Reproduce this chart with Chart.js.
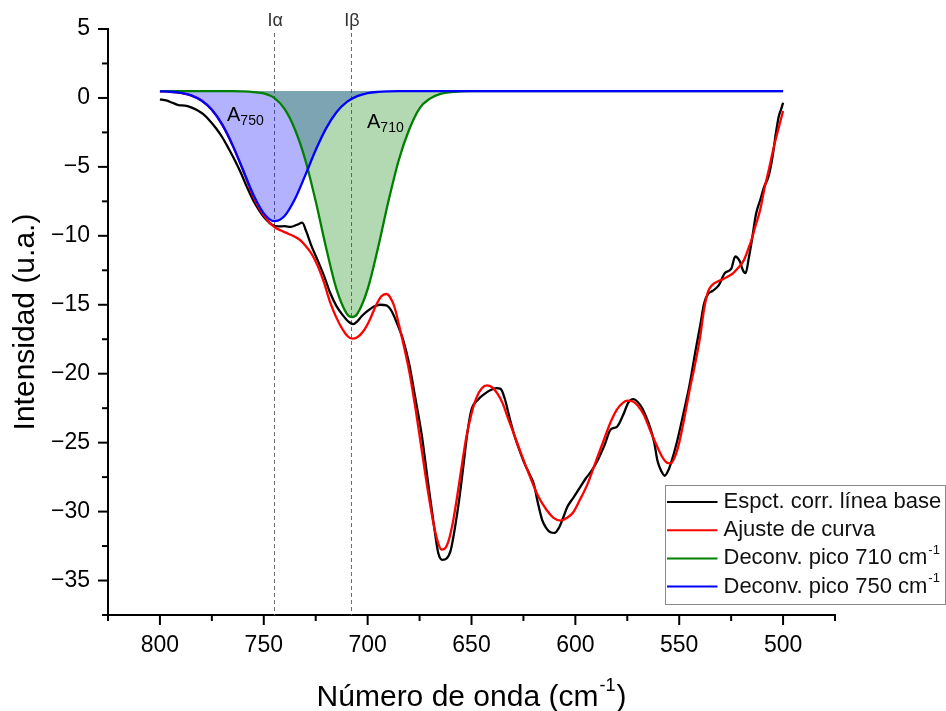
<!DOCTYPE html>
<html>
<head>
<meta charset="utf-8">
<script src="https://cdn.jsdelivr.net/npm/chart.js@4.4.1/dist/chart.umd.min.js"></script>
<style>
  html, body { margin: 0; padding: 0; background: #fff; }
  #wrap { width: 946px; height: 711px; }
</style>
</head>
<body>
<div id="wrap"><canvas id="chart" width="946" height="711"></canvas></div>
<script>
const FONT = "'Liberation Sans', Arial, Helvetica, sans-serif";

/* DATA */

// baseline-corrected spectrum
const expWave = [800, 797, 794, 791, 788, 785, 782, 779, 776, 773, 770, 767, 764, 761, 758, 755, 752, 749, 746, 743,
  740, 737, 734, 731.5, 729.5, 727, 724, 721, 718, 715, 712, 709, 707, 705, 703, 700, 697, 694, 691, 688.5,
  686, 683, 680, 677, 674, 671, 668, 666, 664, 662, 660, 658, 656, 654, 652, 650, 647, 644, 641, 638,
  636, 634, 632, 629.5, 627, 624.5, 622, 620, 618, 616, 614, 612, 610, 608, 606, 604, 601, 598, 595, 592,
  589, 586, 583, 580, 577, 574.5, 572, 570, 568, 566, 564, 562, 560.5, 558.5, 557, 555.5, 554, 551, 548, 545,
  542, 540, 538, 536, 534, 531, 528, 525, 523, 521, 519, 518, 516.5, 515, 513, 511, 509, 507, 505, 503.5,
  502, 501, 500];
const expInt = [-0.10, -0.18, -0.35, -0.52, -0.55, -0.68, -0.90, -1.20, -1.65, -2.20, -2.85, -3.65, -4.50, -5.45, -6.50, -7.45, -8.20, -8.80, -9.20, -9.32,
  -9.30, -9.35, -9.20, -9.05, -9.70, -10.75, -11.80, -12.90, -14.15, -15.10, -15.75, -16.25, -16.40, -16.20, -15.85, -15.45, -15.12, -15.00, -15.05, -15.45,
  -16.30, -17.50, -19.30, -21.80, -24.40, -27.80, -31.10, -33.00, -33.50, -33.40, -32.80, -31.20, -29.20, -26.80, -24.30, -22.60, -21.90, -21.50, -21.20, -21.05,
  -21.10, -21.80, -23.00, -24.40, -25.50, -26.50, -27.30, -28.00, -29.40, -30.60, -31.20, -31.50, -31.55, -31.20, -30.50, -29.70, -29.00, -28.30, -27.60, -27.00,
  -26.20, -25.20, -24.05, -23.85, -23.00, -22.10, -21.85, -22.05, -22.45, -23.10, -23.90, -25.00, -26.30, -27.10, -27.40, -27.10, -26.50, -24.90, -22.90, -20.80,
  -18.20, -16.60, -14.90, -14.20, -14.00, -13.60, -12.70, -12.40, -11.50, -11.80, -12.60, -12.70, -11.60, -10.30, -8.40, -7.40, -6.40, -5.70, -4.20, -2.60,
  -1.30, -0.85, -0.35];

// curve fit
const fitWave = [800, 795, 790, 785, 780, 775, 770, 765, 760, 756, 752, 748, 745, 742, 739, 736, 733, 730, 727, 724,
  721, 718, 715, 712, 709.5, 707.5, 705, 702, 699, 696, 693.5, 691, 689, 687, 685, 683, 680, 677, 674, 671,
  668, 666, 664.5, 663, 661, 659, 657, 655, 652.5, 650, 647.5, 645, 642.5, 640, 637.5, 635, 632.5, 630, 626, 622,
  618, 614, 610.5, 607, 604, 601, 598, 594, 590, 587, 583, 580, 577, 575, 572.5, 570, 567, 564, 561, 558.5,
  556, 554, 552, 550, 547.5, 545, 542.5, 540, 538, 536, 534, 532, 529, 526.5, 524, 521.5, 519, 517, 515, 513.5,
  511, 509, 507, 504.5, 502, 500];
const fitInt = [0.48, 0.45, 0.37, 0.19, -0.19, -0.86, -1.94, -3.44, -5.23, -6.80, -8.05, -8.90, -9.35, -9.60, -9.80, -10.00, -10.25, -10.70, -11.30, -12.20,
  -13.40, -14.85, -15.95, -16.80, -17.30, -17.45, -17.35, -16.90, -16.10, -15.05, -14.40, -14.22, -14.50, -15.20, -16.40, -17.70, -19.80, -22.50, -25.50, -28.50,
  -31.10, -32.30, -32.75, -32.70, -32.10, -30.80, -29.00, -27.00, -24.60, -22.90, -21.70, -21.05, -20.85, -21.00, -21.45, -22.15, -23.20, -24.20, -25.85, -27.40,
  -28.85, -29.85, -30.45, -30.65, -30.45, -30.05, -29.20, -27.95, -26.30, -25.10, -23.50, -22.60, -22.10, -21.95, -22.00, -22.30, -23.00, -24.10, -25.15, -25.95,
  -26.45, -26.50, -26.00, -25.00, -23.20, -21.20, -19.40, -17.40, -15.30, -14.00, -13.55, -13.35, -13.15, -12.95, -12.70, -12.30, -11.80, -11.05, -10.20, -9.40,
  -8.10, -6.60, -5.30, -3.60, -2.10, -0.95];

// deconvolved band near 710 cm-1
const band710Wave = [800, 765, 760, 755, 750, 745, 740, 735, 730, 725, 720, 715, 710, 707.5, 705, 700, 695, 690, 685, 680,
  675, 670, 665, 660, 655, 650, 500];
const band710Int = [0.50, 0.50, 0.47, 0.42, 0.33, 0.00, -0.80, -2.29, -4.50, -7.50, -10.87, -13.87, -15.66, -15.90, -15.66, -13.87, -10.87, -7.50, -4.50, -2.29,
  -0.75, -0.05, 0.30, 0.42, 0.47, 0.50, 0.50];

// deconvolved band near 750 cm-1
const band750Wave = [800, 795, 790, 785, 780, 775, 770, 765, 760, 755, 750, 745, 740, 735, 730, 725, 720, 715, 710, 705,
  700, 695, 690, 685, 500];
const band750Int = [0.48, 0.45, 0.37, 0.19, -0.19, -0.86, -1.94, -3.44, -5.23, -7.02, -8.37, -8.94, -8.56, -7.33, -5.60, -3.78, -2.21, -1.04, -0.29, 0.13,
  0.35, 0.44, 0.48, 0.50, 0.50];

const bandBaseline = 0.5;

const seriesNames = ["Espct. corr. línea base", "Ajuste de curva", "Deconv. pico 710 cm", "Deconv. pico 750 cm"];
const seriesSup = ["", "", "-1", "-1"];
const seriesColors = ["#000000", "#ff0000", "#008000", "#0000ff"];
const bandFills = ["rgba(0,128,0,0.3)", "rgba(0,0,255,0.3)"];

// reference lines for the two bands
const markerWave = [745, 708];
const markerLabels = ["Iα", "Iβ"];

// area labels: main letter, subscript, anchor (wavenumber, intensity)
const areaText = ["A", "A"];
const areaSub = ["750", "710"];
const areaWave = [767.7, 700.3];
const areaInt = [-1.65, -2.16];

const xMin = 475, xMax = 825, xStep = 25, xLabelStep = 50;
const yMin = -37.5, yMax = 5, yStep = 2.5, yLabelStep = 5;

/* HELPERS */

const toPoints = (xs, ys) => xs.map((x, i) => ({ x, y: ys[i] }));
const isMultiple = (v, step) => Math.abs(v / step - Math.round(v / step)) < 1e-6;
const fmt = v => (v < 0 ? "\u2212" + Math.abs(v) : String(v));

function lineSet(i, xs, ys, order, extra) {
  return Object.assign({
    label: seriesNames[i] + (seriesSup[i] ? " " + seriesSup[i] : ""),
    data: toPoints(xs, ys),
    borderColor: seriesColors[i],
    borderWidth: 2.3,
    pointRadius: 0,
    cubicInterpolationMode: "monotone",
    fill: false,
    order
  }, extra || {});
}

/* DECORATION: ticks, markers, labels, legend */

function drawTickMarks(ctx, scale, horizontal, labelStep) {
  ctx.save();
  ctx.strokeStyle = "#000";
  ctx.lineWidth = 2;
  scale.ticks.forEach(t => {
    const len = isMultiple(t.value, labelStep) ? 10 : 6;
    const p = scale.getPixelForValue(t.value);
    ctx.beginPath();
    if (horizontal) {
      ctx.moveTo(p, scale.top);
      ctx.lineTo(p, scale.top + len);
    } else {
      ctx.moveTo(scale.right, p);
      ctx.lineTo(scale.right - len, p);
    }
    ctx.stroke();
  });
  ctx.restore();
}

function drawWithSup(ctx, x, y, text, sup, size, supSize, supRise) {
  ctx.font = size + "px " + FONT;
  ctx.fillText(text, x, y);
  if (!sup) return;
  const w = ctx.measureText(text).width;
  ctx.font = supSize + "px " + FONT;
  ctx.fillText(sup, x + w + 1, y - supRise);
}

const decor = {
  id: "decor",
  beforeDatasetsDraw(chart) {
    const { ctx, chartArea, scales: { x } } = chart;
    ctx.save();
    ctx.strokeStyle = "#6e6e6e";
    ctx.lineWidth = 1;
    ctx.setLineDash([4, 3]);
    markerWave.forEach(w => {
      const px = Math.round(x.getPixelForValue(w)) + 0.5;
      ctx.beginPath();
      ctx.moveTo(px, chartArea.top + 4);
      ctx.lineTo(px, chartArea.bottom);
      ctx.stroke();
    });
    ctx.restore();
  },
  afterDraw(chart) {
    const { ctx, chartArea, scales: { x, y } } = chart;
    drawTickMarks(ctx, x, true, xLabelStep);
    drawTickMarks(ctx, y, false, yLabelStep);

    ctx.save();
    // marker labels
    ctx.fillStyle = "#333";
    ctx.font = "18px " + FONT;
    ctx.textAlign = "center";
    ctx.textBaseline = "alphabetic";
    markerWave.forEach((w, i) => {
      ctx.fillText(markerLabels[i], x.getPixelForValue(w) + 1, 26);
    });

    // band areas
    ctx.fillStyle = "#000";
    ctx.textAlign = "left";
    areaText.forEach((t, i) => {
      const px = x.getPixelForValue(areaWave[i]);
      const py = y.getPixelForValue(areaInt[i]);
      ctx.font = "20px " + FONT;
      ctx.fillText(t, px, py);
      const w = ctx.measureText(t).width;
      ctx.font = "14px " + FONT;
      ctx.fillText(areaSub[i], px + w, py + 4);
    });

    // x axis title with superscript
    ctx.fillStyle = "#000";
    const main = "Número de onda (cm";
    ctx.font = "30px " + FONT;
    const wMain = ctx.measureText(main).width;
    const wClose = ctx.measureText(")").width;
    ctx.font = "18px " + FONT;
    const wSup = ctx.measureText("-1").width;
    const cx = (chartArea.left + chartArea.right) / 2;
    const tx = cx - (wMain + wSup + 2 + wClose) / 2;
    const ty = 706;
    ctx.font = "30px " + FONT;
    ctx.fillText(main, tx, ty);
    ctx.fillText(")", tx + wMain + wSup + 2, ty);
    ctx.font = "18px " + FONT;
    ctx.fillText("-1", tx + wMain + 1, ty - 15);

    // legend
    const lg = { x: 665.5, y: 485.5, w: 280, h: 119 };
    ctx.fillStyle = "#fff";
    ctx.fillRect(lg.x, lg.y, lg.w, lg.h);
    ctx.strokeStyle = "#8a8a8a";
    ctx.lineWidth = 1;
    ctx.strokeRect(lg.x, lg.y, lg.w, lg.h);
    ctx.textBaseline = "middle";
    seriesNames.forEach((name, i) => {
      const cy = lg.y + 16.5 + i * 28.2;
      ctx.strokeStyle = seriesColors[i];
      ctx.lineWidth = 2;
      ctx.beginPath();
      ctx.moveTo(lg.x + 1.5, cy);
      ctx.lineTo(lg.x + 52, cy);
      ctx.stroke();
      ctx.fillStyle = "#111";
      drawWithSup(ctx, lg.x + 58, cy, name, seriesSup[i], 22, 13, 8);
    });
    ctx.restore();
  }
};

/* CHART */

// the 750 band area is painted under the 710 band, its outline on top of everything
new Chart(document.getElementById("chart"), {
  type: "line",
  data: {
    datasets: [
      lineSet(0, expWave, expInt, 4),
      lineSet(1, fitWave, fitInt, 3),
      lineSet(3, band750Wave, band750Int, 2, {
        label: "area 750",
        borderWidth: 0,
        borderColor: "rgba(0,0,0,0)",
        fill: { value: bandBaseline },
        backgroundColor: bandFills[1]
      }),
      lineSet(2, band710Wave, band710Int, 1, { fill: { value: bandBaseline }, backgroundColor: bandFills[0] }),
      lineSet(3, band750Wave, band750Int, 0)
    ]
  },
  options: {
    responsive: false,
    animation: false,
    devicePixelRatio: 1,
    events: [],
    layout: { padding: { left: 0, top: 29, right: 111, bottom: 0 } },
    plugins: {
      legend: { display: false },
      tooltip: { enabled: false }
    },
    scales: {
      x: {
        type: "linear",
        reverse: true,
        min: xMin,
        max: xMax,
        grid: { display: false, drawTicks: true, tickLength: 10 },
        border: { display: true, color: "#000", width: 2 },
        ticks: {
          stepSize: xStep,
          autoSkip: false,
          maxRotation: 0,
          padding: 7,
          color: "#000",
          font: { family: FONT, size: 23 },
          callback: v => (isMultiple(v, xLabelStep) ? fmt(v) : "")
        },
        afterFit: s => { s.height = 96; }
      },
      y: {
        type: "linear",
        min: yMin,
        max: yMax,
        grid: { display: false, drawTicks: true, tickLength: 10 },
        border: { display: true, color: "#000", width: 2 },
        ticks: {
          stepSize: yStep,
          autoSkip: false,
          padding: 8,
          color: "#000",
          font: { family: FONT, size: 23 },
          callback: v => (isMultiple(v, yLabelStep) ? fmt(Math.round(v)) : "")
        },
        title: {
          display: true,
          text: "Intensidad (u.a.)",
          color: "#000",
          font: { family: FONT, size: 30 },
          padding: { top: 8, bottom: 0 }
        },
        afterFit: s => { s.width = 108; }
      }
    }
  },
  plugins: [decor]
});
</script>
</body>
</html>
